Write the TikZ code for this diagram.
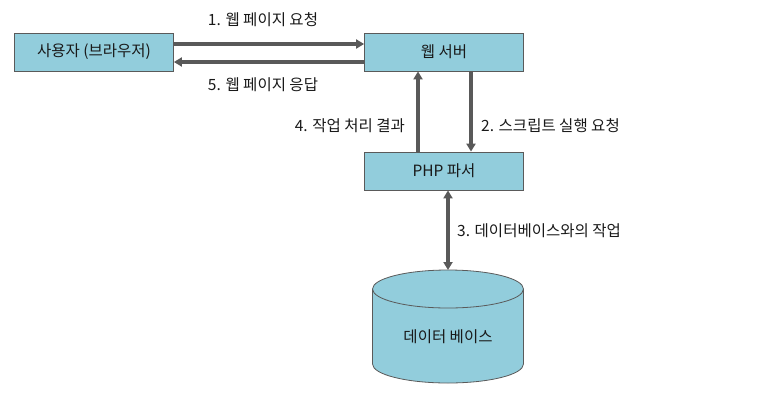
\documentclass[tikz,border=0pt]{standalone}
\usepackage{fontspec}
\setmainfont{Noto Sans CJK KR}
\usetikzlibrary{arrows.meta}
\definecolor{boxfill}{HTML}{92CDDC}
\definecolor{boxline}{HTML}{5A5A5A}
\definecolor{arrowc}{HTML}{595959}
\begin{document}
\begin{tikzpicture}[x=1pt,y=-1pt,
  every node/.style={font=\fontsize{15.5}{18}\selectfont, text=black!90, inner sep=0pt},
  procbox/.style={draw=boxline, fill=boxfill, line width=0.8pt, minimum width=159pt, minimum height=38pt},
  conn/.style={draw=arrowc, line width=3.2pt, -{Triangle[length=8pt,width=9pt]}},
  lbl/.style={}]
\useasboundingbox (0,0) rectangle (765,410);
\node[procbox] (user) at (94,52) {사용자 (브라우저)};
\node[procbox] (web) at (444,52) {웹 서버};
\node[procbox] (php) at (444,171) {PHP 파서};
% database cylinder
\draw[draw=boxline, fill=boxfill, line width=0.8pt]
  (372.5,289) -- (372.5,364) arc[start angle=180, end angle=360, x radius=75.5, y radius=-19]
  -- (523.5,289) arc[start angle=0, end angle=180, x radius=75.5, y radius=-19] -- cycle;
\draw[draw=boxline, line width=0.8pt] (372.5,289) arc[start angle=180, end angle=360, x radius=75.5, y radius=-19];
\coordinate (dbtop) at (448,270);
\node (db) at (448,337) {데이터 베이스};
% arrows
\coordinate (u1) at (user.east |- 0,44);
\coordinate (w1) at (web.west |- 0,44);
\coordinate (u2) at (user.east |- 0,62);
\coordinate (w2) at (web.west |- 0,62);
\draw[conn] (u1) -- (w1);
\draw[conn] (w2) -- (u2);
\coordinate (pu) at (php.north -| 418,0);
\coordinate (wu) at (web.south -| 418,0);
\coordinate (wd) at (web.south -| 471,0);
\coordinate (pd) at (php.north -| 471,0);
\draw[conn] (pu) -- (wu);
\draw[conn] (wd) -- (pd);
\coordinate (pb) at (php.south -| 448,0);
\draw[conn, {Triangle[length=8pt,width=9pt]}-{Triangle[length=8pt,width=9pt]}] (pb) -- (dbtop);
% labels
\node[lbl] (l1) at (263,20) {1. 웹 페이지 요청};
\node[lbl] (l5) at (263,85) {5. 웹 페이지 응답};
\node[lbl, anchor=east] (l4) at (405,126) {4. 작업 처리 결과};
\node[lbl, anchor=west] (l2) at (481,126) {2. 스크립트 실행 요청};
\node[lbl, anchor=west] (l3) at (457,231) {3. 데이터베이스와의 작업};
\end{tikzpicture}
\end{document}
